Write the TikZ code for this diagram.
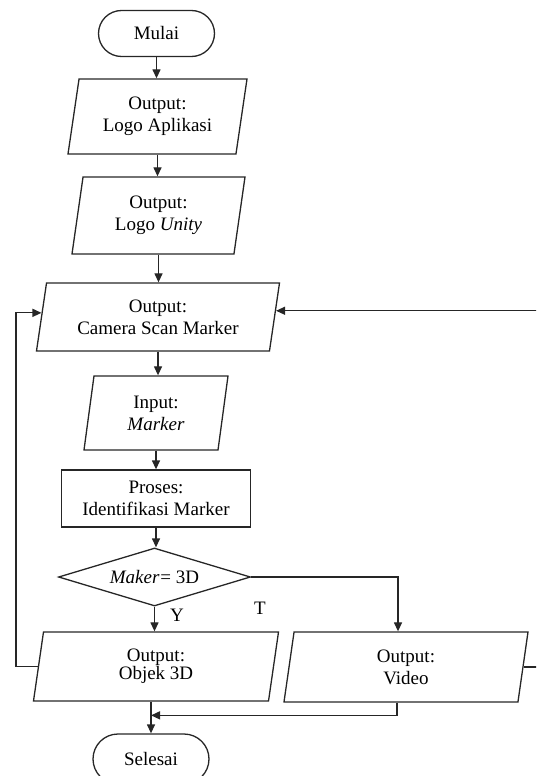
\documentclass[tikz,border=0pt]{standalone}
\usepackage{fontspec}
\setmainfont{Liberation Serif}
\usetikzlibrary{shapes.geometric,arrows.meta,calc}

\tikzset{
  flowline/.style={line width=1.3pt, draw=black!85},
  arr/.style={flowline, -{Triangle[length=9pt,width=8pt]}},
  term/.style={draw=black!85, line width=1.3pt, rectangle, rounded corners=23pt,
    minimum width=116pt, minimum height=46pt, inner sep=0pt},
  io/.style={draw=black!85, line width=1.3pt, trapezium,
    trapezium left angle=75.5, trapezium right angle=104.5,
    trapezium stretches body, align=center, inner sep=2pt},
  procbox/.style={draw=black!85, line width=1.3pt, rectangle, align=center,
    minimum width=189pt, minimum height=57pt, inner sep=0pt},
  decision/.style={draw=black!85, line width=1.3pt, diamond, aspect=3.3,
    minimum width=192pt, minimum height=58pt, inner sep=0pt},
  lbl/.style={inner sep=0pt}
}

\begin{document}
\begin{tikzpicture}[x=1pt, y=-1pt, font=\fontsize{19}{22}\selectfont]
  \path[use as bounding box] (0,0) rectangle (536,776);
  \clip (0,0) rectangle (536,776);

  % main column
  \node[term] (mulai) at (156.5,33.5) {Mulai};
  \node[io, minimum width=179pt, minimum height=75pt] (logoa) at (157.5,116.5)
    {Output:\\Logo Aplikasi};
  \node[io, minimum width=173pt, minimum height=77pt] (logou) at (158.5,215.5)
    {Output:\\Logo \textit{Unity}};
  \node[io, minimum width=243pt, minimum height=68pt] (cam) at (158,317)
    {Output:\\Camera Scan Marker};
  \node[io, minimum width=144pt, minimum height=74pt] (inp) at (156,413)
    {Input:\\\textit{Marker}};
  \node[procbox] (proc) at (156,498.5) {Proses:\\Identifikasi Marker};
  \node[decision] (dia) at (154.5,577) {\textit{Maker}\kern1pt= 3D};
  \node[io, minimum width=245pt, minimum height=69pt,
        font=\fontsize{19}{18}\selectfont] (obj) at (156,666.5)
    {Output:\\Objek 3D};
  \node[io, minimum width=244pt, minimum height=70pt] (vid) at (406,667)
    {Output:\\Video};
  \node[term, minimum height=50pt, rounded corners=25pt] (sel) at (151,759) {Selesai};

  % branch labels
  \node[lbl] (ylab) at (177,615) {Y};
  \node[lbl] (tlab) at (260,608) {T};

  % helper points for the loop-back lines and the merge
  \coordinate (lx) at (16,0);
  \coordinate (rx) at (548,0);
  \coordinate (camL) at ($(cam.top left corner)!0.44!(cam.bottom left corner)$);
  \coordinate (camR) at ($(cam.top right corner)!0.41!(cam.bottom right corner)$);
  \coordinate (vidin) at ($(vid.north)+(-8,0)$);
  \coordinate (vidout) at ($(vid.south)+(-9,0)$);
  \coordinate (mrg) at ($(sel.north)+(0,-18)$);

  % straight connectors
  \draw[arr] (mulai.south) -- (mulai.south |- logoa.north);
  \draw[arr] (logoa.south) -- (logoa.south |- logou.north);
  \draw[arr] (logou.south) -- (logou.south |- cam.north);
  \draw[arr] (cam.south) -- (cam.south |- inp.north);
  \draw[arr] (inp.south) -- (inp.south |- proc.north);
  \draw[arr] (proc.south) -- (proc.south |- dia.north);
  \draw[arr] (dia.south) -- (dia.south |- obj.north);
  \draw[arr] (dia.east) -| (vidin);
  \draw[arr] (obj.south -| sel.north) -- (sel.north);
  \draw[arr] (vidout) |- (mrg);

  % loop-back lines
  \draw[arr] (obj.left side) -- (obj.left side -| lx) |- (camL);
  \draw[arr] (vid.right side) -- (vid.right side -| rx) |- (camR);
\end{tikzpicture}
\end{document}
